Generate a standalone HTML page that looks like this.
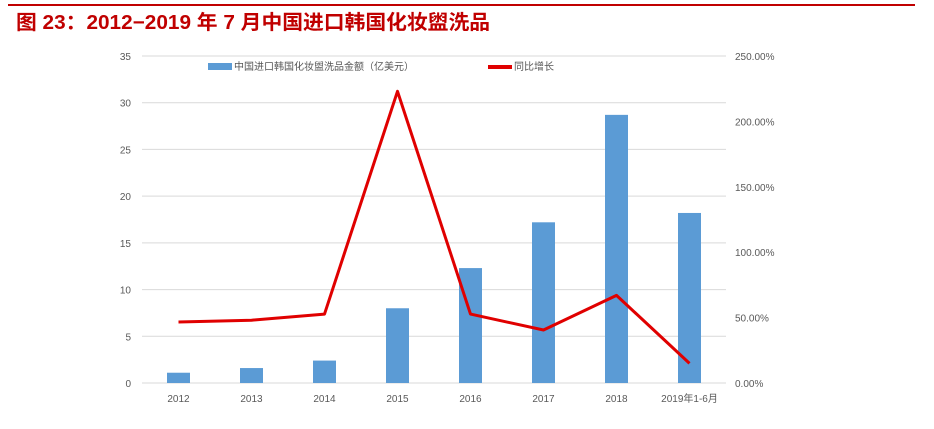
<!DOCTYPE html>
<html><head><meta charset="utf-8"><style>
body{margin:0;width:934px;height:424px;background:#fff;overflow:hidden;font-family:"Liberation Sans","Noto Sans CJK SC",sans-serif;}
</style></head><body>
<svg width="934" height="424" xmlns="http://www.w3.org/2000/svg">
<line x1="8" y1="5" x2="915" y2="5" stroke="#c00000" stroke-width="2"/>
<text x="16" y="29" font-size="20" font-weight="bold" fill="#c00000" textLength="474" lengthAdjust="spacingAndGlyphs" font-family="Liberation Sans,Noto Sans CJK SC,sans-serif">图 23：2012−2019 年 7 月中国进口韩国化妆盥洗品</text>
<g id="grid"></g><g id="bars"></g><g id="line"></g><g id="axes"></g>
<g font-size="10" fill="#555">
<rect x="208" y="63" width="24" height="7" fill="#5b9bd5"/>
<text x="234" y="70">中国进口韩国化妆盥洗品金额（亿美元）</text>
<rect x="488" y="65" width="24" height="4" fill="#e00000"/>
<text x="514" y="70">同比增长</text>
</g>
</svg>
<script>
const categories=["2012","2013","2014","2015","2016","2017","2018","2019年1-6月"];
const amounts=[1.1,1.6,2.4,8.0,12.3,17.2,28.7,18.2];
const growth=[46.6,48,52.7,223,52.7,40.5,67,15];
const leftTicks=[0,5,10,15,20,25,30,35];
const rightTicks=["0.00%","50.00%","100.00%","150.00%","200.00%","250.00%"];
const NS="http://www.w3.org/2000/svg";
const x0=142,step=73,yb=383,yt=56;
const yL=v=>yb-(v/35)*(yb-yt);
const yR=v=>yb-(v/250)*(yb-yt);
const xc=i=>x0+step*(i+0.5);
function mk(tag,attrs,parent,txt){const e=document.createElementNS(NS,tag);for(const k in attrs)e.setAttribute(k,attrs[k]);if(txt!==undefined)e.textContent=txt;document.getElementById(parent).appendChild(e);return e;}
leftTicks.forEach(t=>{
 const l=mk('line',{x1:x0,x2:x0+step*8,y1:yL(t),y2:yL(t),stroke:'#d9d9d9','stroke-width':1},'grid');
 
 
 const tx=mk('text',{x:131,y:yL(t)+4,'text-anchor':'end','font-size':10,fill:'#595959'},'axes',String(t));
 
 
});
rightTicks.forEach((t,i)=>{
 const tx=mk('text',{x:735,y:yR(i*50)+4,'font-size':10,fill:'#595959'},'axes',t);
 
 
});
categories.forEach((c,i)=>{
 const tx=mk('text',{x:xc(i),y:402,'text-anchor':'middle','font-size':10,fill:'#595959'},'axes',c);
 
 
 const b=mk('rect',{x:xc(i)-11.5,y:yL(amounts[i]),width:23,height:yb-yL(amounts[i]),fill:'#5b9bd5'},'bars');
 
 
});
const pl=mk('polyline',{points:growth.map((g,i)=>xc(i)+','+yR(g)).join(' '),fill:'none',stroke:'#e00000','stroke-width':3,'stroke-linejoin':'round'},'line');


</script>
</body></html>
